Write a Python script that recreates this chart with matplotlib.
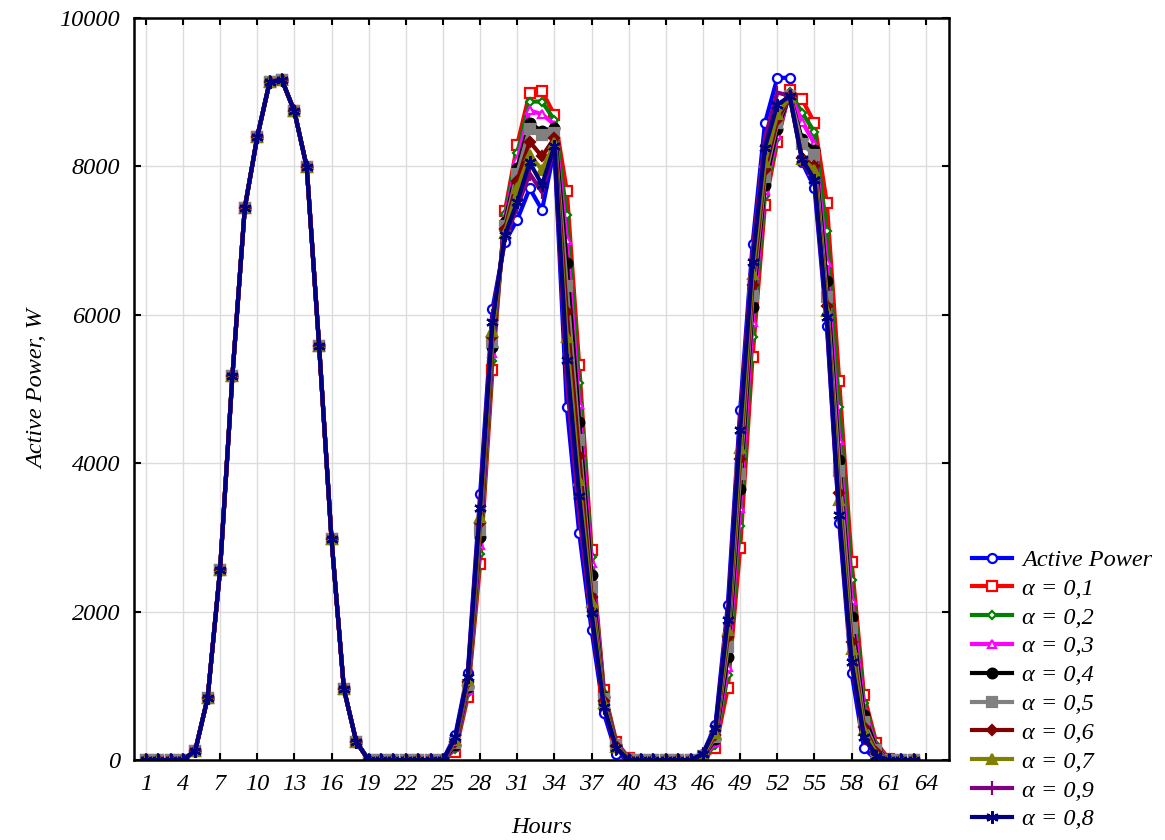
import matplotlib
matplotlib.use('Agg')
import matplotlib.pyplot as plt

plt.rcParams['font.family'] = ['Liberation Serif', 'DejaVu Serif']

# hours 1..63
hours = list(range(1, 64))

# day 1 (hours 1-25): every series is the same
day1 = [0, 0, 0, 0, 130, 840, 2560, 5180, 7440, 8390, 9130, 9160, 8740, 7990,
        5580, 2980, 960, 250, 0, 0, 0, 0, 0, 0, 0]

# hours 26-63 for each series
active = [340, 1170, 3580, 6080, 6980, 7280, 7700, 7410, 8230, 4760, 3060, 1750, 630, 90, 0,
          0, 0, 0, 0, 0,
          90, 470, 2090, 4720, 6950, 8580, 9190, 9190, 8050, 7710, 5850, 3200, 1170, 160, 0, 0, 0, 0]
a01 = [110, 850, 2640, 5260, 7390, 8290, 8990, 9010, 8690, 7670, 5320, 2830, 940, 250, 30,
       0, 0, 0, 0, 0,
       20, 160, 970, 2860, 5430, 7480, 8330, 9030, 8900, 8580, 7500, 5100, 2670, 875, 230, 20, 0, 0]
a02 = [150, 900, 2780, 5380, 7350, 8180, 8870, 8870, 8620, 7345, 5080, 2740, 900, 230, 25,
       0, 0, 0, 0, 0,
       30, 200, 1150, 3150, 5700, 7600, 8380, 9000, 8720, 8460, 7120, 4760, 2425, 770, 200, 15, 0, 0]
a03 = [180, 940, 2900, 5480, 7300, 8080, 8750, 8700, 8560, 7010, 4800, 2650, 870, 220, 20,
       0, 0, 0, 0, 0,
       40, 240, 1260, 3400, 5900, 7680, 8420, 8980, 8600, 8300, 6710, 4310, 2160, 690, 170, 10, 0, 0]
a04 = [200, 980, 3000, 5560, 7250, 7980, 8580, 8470, 8520, 6700, 4560, 2490, 850, 210, 15,
       0, 0, 0, 0, 0,
       50, 280, 1390, 3650, 6100, 7750, 8500, 8960, 8360, 8220, 6450, 4040, 1930, 610, 150, 10, 0, 0]
a05 = [230, 1010, 3100, 5630, 7200, 7900, 8500, 8420, 8450, 6380, 4310, 2335, 830, 200, 15,
       0, 0, 0, 0, 0,
       55, 310, 1530, 3850, 6250, 7850, 8580, 8950, 8300, 8150, 6240, 3900, 1780, 510, 135, 5, 0, 0]
a06 = [250, 1050, 3200, 5700, 7150, 7800, 8330, 8130, 8380, 6040, 4090, 2200, 800, 190, 10,
       0, 0, 0, 0, 0,
       60, 340, 1660, 4050, 6400, 7950, 8620, 8940, 8110, 8000, 6110, 3600, 1595, 450, 110, 5, 0, 0]
a07 = [270, 1080, 3270, 5780, 7100, 7700, 8150, 7950, 8310, 5700, 3770, 2130, 770, 180, 10,
       0, 0, 0, 0, 0,
       70, 370, 1750, 4200, 6550, 8050, 8700, 8930, 8100, 7950, 6050, 3500, 1500, 400, 90, 5, 0, 0]
a09 = [300, 1130, 3480, 5980, 7030, 7450, 7900, 7650, 8250, 5100, 3300, 1890, 700, 150, 5,
       0, 0, 0, 0, 0,
       85, 440, 1980, 4600, 6850, 8380, 8990, 8950, 8070, 7800, 5900, 3250, 1280, 300, 60, 0, 0, 0]
a08 = [310, 1120, 3400, 5900, 7070, 7520, 8050, 7750, 8270, 5390, 3560, 1985, 720, 160, 5,
       0, 0, 0, 0, 0,
       90, 430, 1890, 4450, 6710, 8250, 8830, 8940, 8090, 7820, 5975, 3300, 1325, 315, 60, 0, 0, 0]

labels = ['Active Power', 'α = 0,1', 'α = 0,2', 'α = 0,3', 'α = 0,4', 'α = 0,5',
          'α = 0,6', 'α = 0,7', 'α = 0,9', 'α = 0,8']
series = [active, a01, a02, a03, a04, a05, a06, a07, a09, a08]
colors = ['#0000ff', '#ff0000', '#008000', '#ff00ff', '#000000', '#808080',
          '#800000', '#808000', '#800080', '#000080']
markers = ['o', 's', 'D', '^', 'o', 's', 'D', '^', '|', (6, 2, 0)]
hollow = [True, True, True, True, False, False, False, False, False, False]
msizes = [6.5, 7, 4.5, 6, 7, 7, 5.5, 7, 10, 9]

fig = plt.figure(figsize=(11.65, 8.4), dpi=100)
ax = fig.add_axes([0.115, 0.095, 0.7, 0.884])

for vals, lab, c, m, h, ms in zip(series, labels, colors, markers, hollow, msizes):
    y = day1 + vals
    ax.plot(hours, y, color=c, linewidth=3, marker=m, markersize=ms,
            markerfacecolor='white' if h else c, markeredgecolor=c,
            markeredgewidth=1.6, label=lab)

ax.set_xlim(0.05, 65.9)
ax.set_ylim(0, 10000)
ax.set_xticks(range(1, 65, 3))
ax.set_yticks(range(0, 10001, 2000))
ax.grid(True, color='#dcdcdc', linewidth=1)
ax.set_axisbelow(True)
ax.tick_params(direction='in', length=5, width=1.5, top=True, right=True,
               labelsize=17.5, pad=10)
for lab in ax.get_xticklabels() + ax.get_yticklabels():
    lab.set_fontstyle('italic')
for s in ax.spines.values():
    s.set_linewidth(1.8)

ax.set_xlabel('Hours', fontsize=17.5, fontstyle='italic', labelpad=16)
ax.set_ylabel('Active Power, W', fontsize=17.5, fontstyle='italic', labelpad=8)

fig.legend(loc='upper left', bbox_to_anchor=(0.826, 0.358), frameon=False,
           handlelength=1.65, labelspacing=0.28, handletextpad=0.4,
           borderaxespad=0, prop={'style': 'italic', 'size': 17.5})

fig.savefig('out.png', dpi=100)
